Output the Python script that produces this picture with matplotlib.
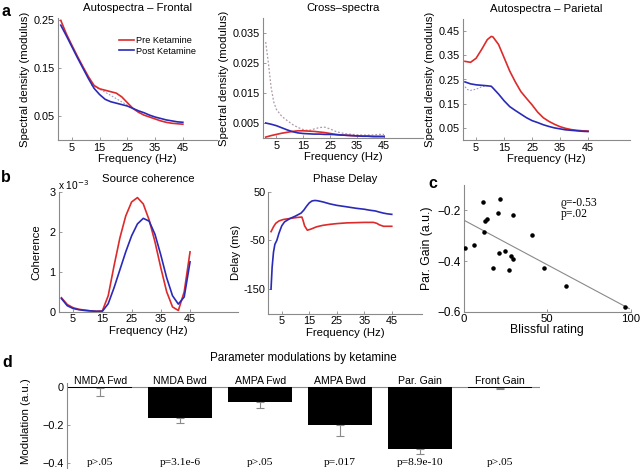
import numpy as np
import matplotlib
matplotlib.use("Agg")
import matplotlib.pyplot as plt

plt.rcParams['font.family'] = ['Liberation Sans', 'DejaVu Sans']
plt.rcParams['font.size'] = 8.2
plt.rcParams['axes.unicode_minus'] = True

W, H = 640, 469
RED = '#dd2a2a'
BLUE = '#2a2ab8'
AXC = '#8a8a8a'
SERIF = ['Liberation Serif', 'DejaVu Serif']

# ---------------- data ----------------
freq = [1, 3, 5, 7, 9, 11, 13, 15, 17, 19, 21, 23, 25, 27, 29, 31, 33, 35, 37, 39, 41, 43, 45]

frontal_pre = [0.250, 0.222, 0.198, 0.175, 0.153, 0.132, 0.114, 0.107, 0.104, 0.101, 0.098, 0.090,
               0.078, 0.066, 0.058, 0.052, 0.048, 0.044, 0.040, 0.037, 0.035, 0.034, 0.033]
frontal_post = [0.240, 0.218, 0.195, 0.172, 0.150, 0.128, 0.108, 0.095, 0.085, 0.080, 0.077, 0.074,
                0.071, 0.066, 0.061, 0.057, 0.052, 0.048, 0.045, 0.042, 0.040, 0.038, 0.037]
frontal_obs_f = [12, 17, 22, 27]
frontal_obs = [0.115, 0.100, 0.083, 0.066]

cross_pre = [0.0003, 0.0008, 0.0012, 0.0016, 0.0019, 0.0022, 0.0024, 0.0024, 0.0023, 0.0022, 0.0020, 0.0018,
             0.0015, 0.0012, 0.0010, 0.0009, 0.0008, 0.0007, 0.0006, 0.0006, 0.0005, 0.0005, 0.0005]
cross_post = [0.0050, 0.0046, 0.0041, 0.0034, 0.0027, 0.0021, 0.0017, 0.0015, 0.0014, 0.0013, 0.0013, 0.0012,
              0.0012, 0.0011, 0.0010, 0.0009, 0.0008, 0.0007, 0.0006, 0.0006, 0.0005, 0.0005, 0.0005]
cross_obs_f = [1, 2, 3, 4, 5, 7, 9, 11, 13, 15, 17, 19, 21, 23, 25, 27, 29, 31, 33, 35, 37, 39, 41, 43, 45]
cross_obs = [0.032, 0.025, 0.017, 0.012, 0.0095, 0.0072, 0.0058, 0.0045, 0.0035, 0.0028, 0.0025, 0.0030,
             0.0035, 0.0036, 0.0030, 0.0022, 0.0017, 0.0014, 0.0012, 0.0011, 0.0010, 0.0010, 0.0010,
             0.0012, 0.0012]

par_f = [1, 3, 5, 7, 9, 10.4, 11, 13, 15, 17, 19, 21, 23, 25, 27, 29, 31, 33, 35, 37, 39, 41, 43, 45]
par_pre = [0.325, 0.321, 0.338, 0.375, 0.415, 0.428, 0.426, 0.395, 0.340, 0.285, 0.240, 0.200, 0.172,
           0.145, 0.115, 0.092, 0.077, 0.065, 0.055, 0.048, 0.043, 0.040, 0.038, 0.037]
par_post = [0.240, 0.232, 0.228, 0.226, 0.224, 0.222, 0.215, 0.190, 0.162, 0.138, 0.122, 0.107, 0.092,
            0.080, 0.072, 0.063, 0.056, 0.050, 0.046, 0.042, 0.040, 0.038, 0.036, 0.035]
par_obs_f = [1, 2, 3, 5, 7, 9]
par_obs = [0.220, 0.208, 0.205, 0.210, 0.220, 0.224]

coh_pre = [0.35, 0.18, 0.10, 0.06, 0.04, 0.02, 0.01, 0.02, 0.40, 1.15, 1.85, 2.40, 2.75, 2.86, 2.70,
           2.30, 1.75, 1.10, 0.50, 0.12, 0.03, 0.50, 1.50]
coh_post = [0.33, 0.15, 0.08, 0.05, 0.03, 0.02, 0.01, 0.01, 0.20, 0.60, 1.05, 1.50, 1.90, 2.20, 2.34,
            2.27, 1.94, 1.42, 0.85, 0.40, 0.19, 0.37, 1.25]

ph_post_f = [1.1, 1.5, 2, 2.5, 3.2, 4, 5, 6, 8, 10, 11, 12, 13, 14, 15, 16, 17, 18, 20, 22.5, 25, 28.6,
             32, 35, 37, 39, 40.6, 42, 43.5, 45]
ph_post = [-150, -105, -74, -58, -50, -35, -20, -12, -5, 0, 3, 6, 12, 20, 27, 31, 32, 31.5, 29, 25, 22,
           19, 16, 14, 12, 10.5, 8, 6, 4.5, 3.5]
ph_pre_f = [1.1, 2, 2.8, 4, 5.6, 8, 10.4, 12.3, 12.7, 13.3, 14.3, 15.5, 17.7, 20, 22.5, 25, 28.6, 32, 35,
            38.4, 39.6, 40.5, 42, 43.5, 45]
ph_pre = [-32, -22, -15, -10, -7, -5, -3, -2, -8, -20, -29, -27, -22, -19, -17, -15.5, -14, -13.5, -13,
          -13, -15, -18, -21, -21, -21]

bliss = [1.0, 6.0, 11.7, 12.5, 12.9, 14.3, 17.5, 20.6, 21.4, 22.0, 24.8, 27.0, 28.4, 29.4, 29.6, 40.7,
         48.2, 61.3, 96.2]
pgain = [-0.347, -0.337, -0.167, -0.285, -0.242, -0.233, -0.427, -0.210, -0.367, -0.154, -0.361, -0.434,
         -0.380, -0.217, -0.392, -0.298, -0.427, -0.498, -0.580]
fit_x = [0, 99]
fit_y = [-0.238, -0.588]

params = ['NMDA Fwd', 'NMDA Bwd', 'AMPA Fwd', 'AMPA Bwd', 'Par. Gain', 'Front Gain']
modulation = [-0.003, -0.165, -0.077, -0.200, -0.325, -0.002]
mod_err = [0.042, 0.022, 0.033, 0.058, 0.027, 0.009]
pvals = ['p>.05', 'p=3.1e-6', 'p>.05', 'p=.017', 'p=8.9e-10', 'p>.05']

# ---------------- figure ----------------
fig = plt.figure(figsize=(W / 100, H / 100), dpi=100)
TICK_FS = 7.8
TITLE_FS = 8.2


def mkax(l, r, t, b):
    ax = fig.add_axes([l / W, 1 - b / H, (r - l) / W, (b - t) / H])
    for s in ['top', 'right']:
        ax.spines[s].set_visible(False)
    for s in ['left', 'bottom']:
        ax.spines[s].set_color(AXC)
        ax.spines[s].set_linewidth(0.8)
    ax.tick_params(direction='in', length=2.5, width=0.6, color=AXC, labelsize=TICK_FS, pad=2)
    ax.patch.set_alpha(0)
    return ax


# Frontal
ax1 = mkax(58, 217, 18, 140)
ax1.plot(frontal_obs_f, frontal_obs, ls=(0, (1.5, 1.5)), color='#9a9ad0', lw=0.8)
ax1.plot(freq, frontal_pre, color=RED, lw=1.2, label='Pre Ketamine')
ax1.plot(freq, frontal_post, color=BLUE, lw=1.2, label='Post Ketamine')
ax1.set_xlim(0, 57.3)
ax1.set_ylim(0, 0.255)
ax1.set_yticks([0.05, 0.15, 0.25])
ax1.set_yticklabels(['0.05', '0.15', '0.25'])
ax1.set_xticks([5, 15, 25, 35, 45])
ax1.set_xlabel('Frequency (Hz)', labelpad=1)
ax1.set_ylabel('Spectral density (modulus)', labelpad=3)
ax1.set_title('Autospectra – Frontal', fontsize=TITLE_FS, pad=5)
ax1.legend(loc='upper left', bbox_to_anchor=(0.385, 0.85), frameon=False, handlelength=1.6,
           handletextpad=0.25, borderaxespad=0, borderpad=0, labelspacing=0.15, fontsize=6.6)

# Cross
ax2 = mkax(263, 423, 18, 138)
ax2.plot(cross_obs_f, cross_obs, ls=(0, (1.5, 1.5)), color='#b09aa8', lw=0.9)
ax2.plot(freq, cross_pre, color=RED, lw=1.2)
ax2.plot(freq, cross_post, color=BLUE, lw=1.2)
ax2.set_xlim(0, 59.5)
ax2.set_ylim(0, 0.04)
ax2.set_yticks([0.005, 0.015, 0.025, 0.035])
ax2.set_yticklabels(['0.005', '0.015', '0.025', '0.035'])
ax2.set_xticks([5, 15, 25, 35, 45])
ax2.set_xlabel('Frequency (Hz)', labelpad=1)
ax2.set_ylabel('Spectral density (modulus)', labelpad=3)
ax2.set_title('Cross–spectra', fontsize=TITLE_FS, pad=5)

# Parietal
ax3 = mkax(463, 630, 19, 140)
ax3.plot(par_obs_f, par_obs, ls=(0, (1.5, 1.5)), color='#9a9ad0', lw=0.8)
ax3.plot(par_f, par_pre, color=RED, lw=1.2)
ax3.plot(par_f, par_post, color=BLUE, lw=1.2)
ax3.set_xlim(0.3, 60)
ax3.set_ylim(0, 0.5)
ax3.set_yticks([0.05, 0.15, 0.25, 0.35, 0.45])
ax3.set_yticklabels(['0.05', '0.15', '0.25', '0.35', '0.45'])
ax3.set_xticks([5, 15, 25, 35, 45])
ax3.set_xlabel('Frequency (Hz)', labelpad=1)
ax3.set_ylabel('Spectral density (modulus)', labelpad=3)
ax3.set_title('Autospectra – Parietal', fontsize=TITLE_FS, pad=5)

# Coherence
ax4 = mkax(58.5, 238, 192, 311.7)
ax4.plot(freq, coh_pre, color=RED, lw=1.2)
ax4.plot(freq, coh_post, color=BLUE, lw=1.2)
ax4.set_xlim(0, 61.4)
ax4.set_ylim(0, 3)
ax4.set_yticks([0, 1, 2, 3])
ax4.set_xticks([5, 15, 25, 35, 45])
ax4.set_xlabel('Frequency (Hz)', labelpad=1)
ax4.set_ylabel('Coherence', labelpad=6)
ax4.set_title('Source coherence', fontsize=TITLE_FS, pad=7)
ax4.text(0.0, 1.0, r'x 10$^{-3}$', transform=ax4.transAxes, ha='left', va='bottom', fontsize=7.3)

# Phase delay
ax5 = mkax(268, 422, 191.7, 313.5)
ax5.plot(ph_pre_f, ph_pre, color=RED, lw=1.2)
ax5.plot(ph_post_f, ph_post, color=BLUE, lw=1.2)
ax5.set_xlim(0, 56)
ax5.set_ylim(-200, 50)
ax5.set_yticks([-150, -50, 50])
ax5.set_yticklabels(['-150', '-50', '50'])
ax5.set_xticks([5, 15, 25, 35, 45])
ax5.set_xlabel('Frequency (Hz)', labelpad=1)
ax5.set_ylabel('Delay (ms)', labelpad=2)
ax5.set_title('Phase Delay', fontsize=TITLE_FS, pad=7)

# Scatter
ax6 = mkax(463.5, 631, 185, 311.7)
ax6.scatter(bliss, pgain, s=5, color='black', zorder=3)
ax6.plot(fit_x, fit_y, color='#8a8a8a', lw=0.8)
ax6.set_xlim(0, 100)
ax6.set_ylim(-0.6, -0.1)
ax6.set_yticks([-0.6, -0.4, -0.2])
ax6.set_yticklabels(['−0.6', '−0.4', '−0.2'])
ax6.set_xticks([0, 50, 100])
ax6.set_xticklabels(['0', '50', '100'])
ax6.tick_params(axis='y', labelsize=8.5)
ax6.tick_params(axis='x', labelsize=8.2)
ax6.set_xlabel('Blissful rating', fontsize=8.8, labelpad=0)
ax6.set_ylabel('Par. Gain (a.u.)', fontsize=8.8, labelpad=3)
ax6.text(58, -0.172, 'ϱ=-0.53', family=SERIF, fontsize=8.4, va='center', ha='left')
ax6.text(58, -0.215, 'p=.02', family=SERIF, fontsize=8.4, va='center', ha='left')

# Bars
ax7 = mkax(66.7, 540, 383, 469)
xpos = np.arange(1, len(params) + 1)
ax7.bar(xpos, modulation, width=0.8, color='black', zorder=2)
lower = np.array(mod_err)
ax7.errorbar(xpos, modulation, yerr=[lower, np.zeros_like(lower)], fmt='none', ecolor='#8a8a8a',
             elinewidth=0.8, capsize=3, capthick=0.8, zorder=3)
ax7.axhline(0, color='#8a8a8a', lw=0.8, zorder=1)
ax7.spines['bottom'].set_visible(False)
ax7.set_xlim(0.58, 6.5)
ax7.set_ylim(-0.433, 0.023)
ax7.set_yticks([-0.4, -0.2, 0])
ax7.set_yticklabels(['−0.4', '−0.2', '0'])
ax7.set_xticks([])
ax7.set_ylabel('Modulation (a.u.)', labelpad=3)
ax7.yaxis.set_label_coords(-0.075, 0.56)
ax7.set_title('Parameter modulations by ketamine', fontsize=8.4, pad=16)
for x, name, p in zip(xpos, params, pvals):
    ax7.text(x, 0.034, name, ha='center', va='center', fontsize=7.6, clip_on=False)
    ax7.text(x, -0.4, p, ha='center', va='center', fontsize=8.2, family=SERIF)

# panel letters
for lab, (px, py) in {'a': (6, 12), 'b': (6, 177), 'c': (433, 183), 'd': (7, 362)}.items():
    fig.text(px / W, 1 - py / H, lab, fontsize=11.5, fontweight='bold', ha='center', va='center')

fig.savefig('out.png', dpi=100)
